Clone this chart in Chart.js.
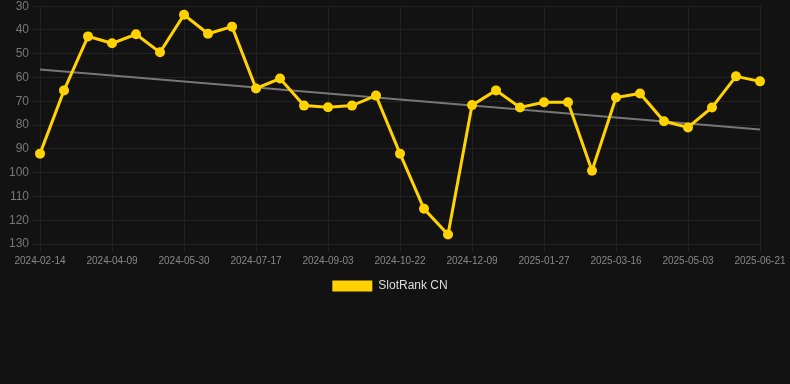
<!DOCTYPE html>
<html><head><meta charset="utf-8">
<script src="https://cdn.jsdelivr.net/npm/chart.js@4.4.1/dist/chart.umd.min.js"></script>
<style>
html,body{margin:0;padding:0;background:#121212;overflow:hidden;}
#wrap{width:790px;height:306px;position:relative;margin-top:-4px;}
</style></head>
<body><div id="wrap"><canvas id="c"></canvas></div>
<script>
const dates = ["2024-02-14","2024-03-03","2024-03-21","2024-04-09","2024-04-25","2024-05-13","2024-05-30","2024-06-15","2024-07-01","2024-07-17","2024-08-02","2024-08-18","2024-09-03","2024-09-19","2024-10-06","2024-10-22","2024-11-07","2024-11-23","2024-12-09","2024-12-25","2025-01-10","2025-01-27","2025-02-12","2025-02-28","2025-03-16","2025-04-01","2025-04-17","2025-05-03","2025-05-19","2025-06-05","2025-06-21"];
const rank = [92,65.4,42.7,45.6,41.8,49.4,33.6,41.6,38.6,64.6,60.4,71.8,72.5,71.8,67.6,92,115.2,126,71.6,65.4,72.6,70.4,70.4,99.2,68.4,66.7,78.4,81,72.6,59.5,61.6];
const trendEnds = [56.6, 81.8];
const yTicks = [30,40,50,60,70,80,90,100,110,120,130];

const pts = rank.map((v,i)=>({x:i,y:v}));
const trend = [{x:0,y:trendEnds[0]},{x:dates.length-1,y:trendEnds[1]}];
Chart.defaults.font.family = "'Liberation Sans', Arial, sans-serif";
const legendShift = {id:'legendShift', afterLayout(chart){ const l = chart.legend; if(l){ l.left += 7; l.right += 7; } }};
new Chart(document.getElementById('c'), {
  type:'line',
  plugins:[legendShift],
  data:{datasets:[
    {label:'SlotRank CN', data:pts, borderColor:'#ffd200', backgroundColor:'#ffd200', borderWidth:3, pointRadius:5, pointHoverRadius:5, pointBackgroundColor:'#ffd200', pointBorderColor:'#ffd200', pointBorderWidth:0, tension:0, order:1, clip:false},
    {label:'trend', data:trend, borderColor:'#777777', borderWidth:2, pointRadius:0, tension:0, order:2}
  ]},
  options:{
    responsive:true, maintainAspectRatio:false, animation:false,
    layout:{padding:{left:6,right:30,top:0,bottom:0}},
    plugins:{
      legend:{position:'bottom', labels:{color:'#dddddd', font:{size:12}, boxWidth:40, boxHeight:11,
        generateLabels:(chart)=>{
          const items = Chart.defaults.plugins.legend.labels.generateLabels(chart);
          return items.filter(it=>it.text!=='trend').map(it=>Object.assign(it,{lineWidth:0}));
        }}},
      tooltip:{enabled:false}
    },
    scales:{
      x:{type:'linear', min:0, max:dates.length-1,
        grid:{color:'#222222', drawTicks:true, tickLength:8},
        border:{display:false},
        ticks:{stepSize:3, color:'#888888', font:{size:10}, maxRotation:0, autoSkip:false, callback:(v)=>dates[v]}},
      y:{reverse:true, min:yTicks[0], max:yTicks[yTicks.length-1],
        grid:{color:'#222222', tickLength:8},
        border:{display:false},
        afterBuildTicks:(ax)=>{ax.ticks = yTicks.map(v=>({value:v}));},
        ticks:{color:'#777777', font:{size:12}}}
    }
  }
});
</script></body></html>
